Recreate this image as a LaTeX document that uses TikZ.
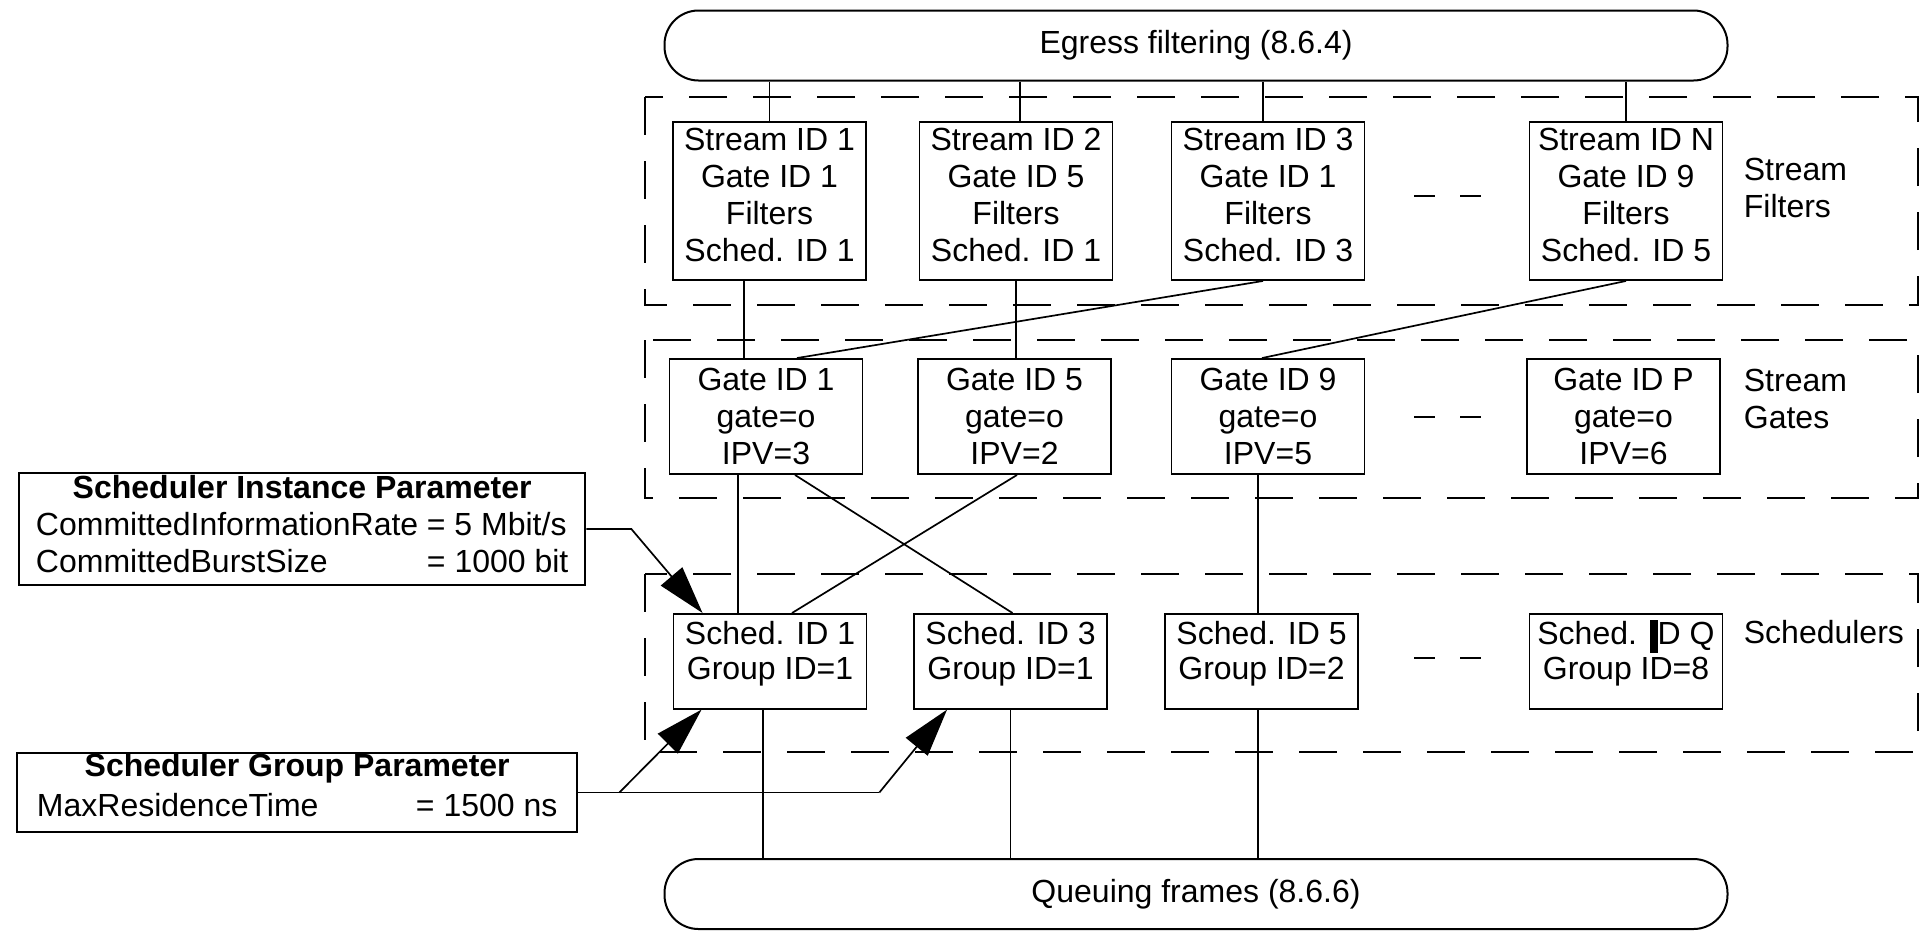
\documentclass[tikz,border=0pt]{standalone}
\usepackage{fontspec}
\setmainfont{Liberation Sans}
\usetikzlibrary{arrows.meta}

\begin{document}
\begin{tikzpicture}[x=1pt, y=-1pt, line width=1.7pt,
  font=\fontsize{32}{37}\selectfont,
  box/.style={draw, line width=1.9pt, align=center, minimum width=193pt, inner sep=0pt},
  filt/.style={box, minimum height=158pt, text depth=12pt},
  gate/.style={box, minimum height=115pt},
  sched/.style={box, anchor=north, inner ysep=7pt, text depth=22.5pt, font=\fontsize{32}{35}\selectfont},
  pill/.style={draw, line width=2pt, rounded corners=34pt, minimum width=1063pt, minimum height=70pt},
  param/.style={draw, line width=1.9pt, anchor=west, font=\fontsize{32}{31}\selectfont},
  frame/.style={line width=2.2pt, dash pattern=on 38pt off 26pt},
  gap/.style={line width=2.2pt, dash pattern=on 21pt off 25pt},
  lbl/.style={anchor=west, align=left, inner sep=0pt},
  arr/.style={-{Triangle[length=48pt, width=28pt]}}]

\useasboundingbox (0,0) rectangle (1921,930);

\node [pill] (egress) at (1196,45.5) {Egress filtering (8.6.4)};
\node [pill] (queue) at (1196,894) {Queuing frames (8.6.6)};

\draw [frame] (645,97) rectangle (1918,305);
\draw [frame] (645,340) rectangle (1918,498);
\draw [frame] (645,574) rectangle (1918,752);

\node [filt] (sf1) at (769.5,201) {Stream ID 1\\Gate ID 1\\Filters\\Sched. ID 1};
\node [filt] (sf2) at (1016,201) {Stream ID 2\\Gate ID 5\\Filters\\Sched. ID 1};
\node [filt] (sf3) at (1268,201) {Stream ID 3\\Gate ID 1\\Filters\\Sched. ID 3};
\node [filt] (sfn) at (1626,201) {Stream ID N\\Gate ID 9\\Filters\\Sched. ID 5};

\node [gate] (g1) at (766,416.5) {Gate ID 1\\gate=o\\IPV=3};
\node [gate] (g5) at (1014.5,416.5) {Gate ID 5\\gate=o\\IPV=2};
\node [gate] (g9) at (1268,416.5) {Gate ID 9\\gate=o\\IPV=5};
\node [gate] (gp) at (1623.5,416.5) {Gate ID P\\gate=o\\IPV=6};

\node [sched] (s1) at (770,613) {Sched. ID 1\\Group ID=1};
\node [sched] (s3) at (1010.5,613) {Sched. ID 3\\Group ID=1};
\node [sched] (s5) at (1261.5,613) {Sched. ID 5\\Group ID=2};
\node [sched] (sq) at (1626,613) {Sched. ID Q\\Group ID=8};
\fill (1650,620) rectangle (1658,653);

\node [lbl] (lf) at (1743,188) {Stream\\Filters};
\node [lbl] (lg) at (1743,398.5) {Stream\\Gates};
\node [lbl] (ls) at (1743,632) {Schedulers};

\draw [gap] (1414,196) -- (1481,196);
\draw [gap] (1414,417) -- (1481,417);
\draw [gap] (1414,658) -- (1481,658);

\node [param, inner xsep=17pt, inner ysep=2pt] (inst) at (18,529) {\begin{tabular}{@{}p{391pt}@{}l@{}}
\multicolumn{2}{@{}c@{}}{\bfseries Scheduler Instance Parameter}\\[4.5pt]
CommittedInformationRate & = 5 Mbit/s\\[4.5pt]
CommittedBurstSize & = 1000 bit\\[1pt]
\end{tabular}};
\node [param, inner xsep=20pt, inner ysep=0pt, font=\fontsize{32}{30}\selectfont] (grp) at (16,792.5) {\begin{tabular}{@{}p{379pt}@{}l@{}}
\multicolumn{2}{@{}c@{}}{\bfseries Scheduler Group Parameter}\\[8pt]
MaxResidenceTime & = 1500 ns\\[7pt]
\end{tabular}};

\draw (sf1.north) -- (sf1.north |- egress.south);
\draw ([xshift=4pt]sf2.north) -- ([xshift=4pt]sf2.north |- egress.south);
\draw ([xshift=-5pt]sf3.north) -- ([xshift=-5pt]sf3.north |- egress.south);
\draw (sfn.north) -- (sfn.north |- egress.south);

\draw ([xshift=-25.5pt]sf1.south) -- ([xshift=-25.5pt]sf1.south |- g1.north);
\draw (sf2.south) -- (sf2.south |- g5.north);
\draw ([xshift=-5pt]sf3.south) -- ([xshift=31pt]g1.north);
\draw (sfn.south) -- ([xshift=-6pt]g9.north);

\draw ([xshift=-28pt]g1.south) -- ([xshift=-28pt]g1.south |- s1.north);
\draw ([xshift=29pt]g1.south) -- ([xshift=2pt]s3.north);
\draw ([xshift=2.5pt]g5.south) -- ([xshift=22pt]s1.north);
\draw ([xshift=-10pt]g9.south) -- ([xshift=-10pt]g9.south |- s5.north);

\draw ([xshift=-7pt]s1.south) -- ([xshift=-7pt]s1.south |- queue.north);
\draw (s3.south) -- (s3.south |- queue.north);
\draw ([xshift=-3.5pt]s5.south) -- ([xshift=-3.5pt]s5.south |- queue.north);

\draw [arr] (inst.east) -- ++(45,0) -- ([xshift=30pt]s1.north west);
\draw (grp.east) -- ++(301,0) coordinate (gk);
\draw [arr] ([xshift=41pt]grp.east) -- ([xshift=29pt]s1.south west);
\draw [arr] (gk) -- ([xshift=34pt]s3.south west);

\end{tikzpicture}
\end{document}
